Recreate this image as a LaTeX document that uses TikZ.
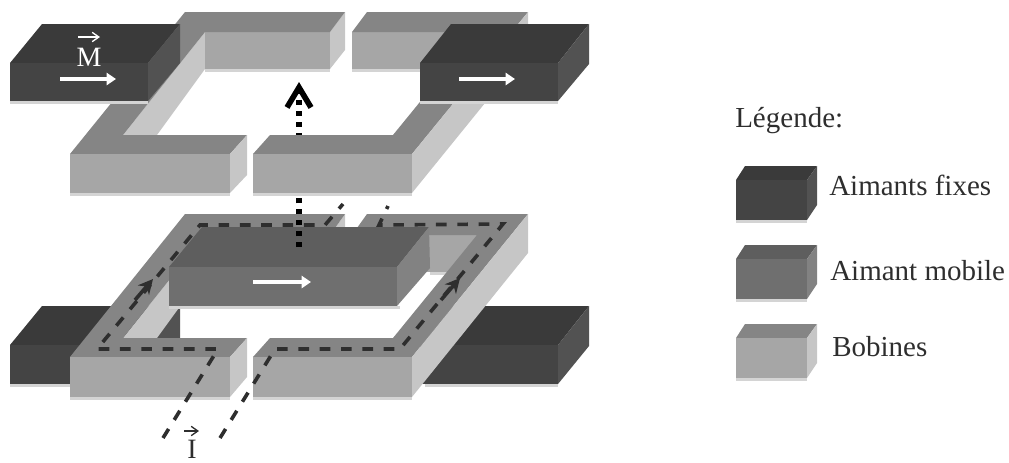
\documentclass[tikz,border=0pt]{standalone}
\usepackage{fontspec}
\setmainfont{Liberation Serif}
\usetikzlibrary{arrows.meta}
\definecolor{fixehaut}{HTML}{3A3A3A}
\definecolor{fixeface}{HTML}{444444}
\definecolor{fixecote}{HTML}{525252}
\definecolor{mobhaut}{HTML}{5E5E5E}
\definecolor{mobface}{HTML}{6F6F6F}
\definecolor{mobcote}{HTML}{828282}
\definecolor{bobhaut}{HTML}{858585}
\definecolor{bobface}{HTML}{A6A6A6}
\definecolor{bobcote}{HTML}{C6C6C6}
\definecolor{encre}{HTML}{2E2E2E}
\definecolor{halo}{HTML}{D4D4D4}

\begin{document}
\begin{tikzpicture}[
  x=0.75pt,y=-0.75pt,
  courant/.style={encre,line width=2.7pt,dash pattern=on 8pt off 8pt},
  pointe/.style={encre,line width=2.7pt,-{Stealth[length=11pt,width=11pt]}},
  champ/.style={black,line width=4.2pt,dash pattern=on 3.8pt off 4.4pt,-{Straight Barb[length=15pt,width=18pt]}},
  blanche/.style={white,line width=2.8pt,-{Triangle[length=7pt,width=9pt]}},
  fine/.style={line width=1pt,-{Straight Barb[length=5pt,width=7pt]}},
  titre/.style={inner sep=0pt,anchor=base west,text=encre,font=\fontsize{21.75}{24}\selectfont},
  lettre/.style={inner sep=0pt,anchor=base,font=\fontsize{21}{24}\selectfont},
]
\useasboundingbox (0,0) rectangle (1009,462);
% aimants fixes du bas
\fill[halo] (10,384) rectangle (80,387);
\fill[halo] (425,384) -- (558,384) -- (558,387) -- (425,387) -- cycle;
\fill[fixehaut] (10,345) -- (148,345) -- (180,306) -- (42,306) -- cycle;
\fill[fixeface] (10,345) rectangle (148,384);
\fill[fixecote] (148,345) -- (180,306) -- (180,345) -- (148,384) -- cycle;
\fill[fixehaut] (420,345) -- (558,345) -- (589,306) -- (451,306) -- cycle;
\fill[fixeface] (420,345) rectangle (558,384);
\fill[fixecote] (558,345) -- (589,306) -- (589,346) -- (558,384) -- cycle;
% bobine du bas
\fill[bobcote] (205,235) -- (205,272) -- (157,338) -- (123,338) -- cycle;
\fill[bobface] (205,235) rectangle (330,272);
\fill[bobcote] (330,235) -- (345,214) -- (345,253) -- (330,272) -- cycle;
\fill[bobface] (352,235) rectangle (477,272);
\fill[halo] (430,272) rectangle (467,275);
\fill[halo] (70,397) rectangle (230,400);
\fill[halo] (253,397) rectangle (412,400);
\fill[bobhaut] (185,214) -- (345,214) -- (330,235) -- (205,235) -- (123,338) -- (247,338) -- (230,357) -- (70,357) -- cycle;
\fill[bobface] (70,357) rectangle (230,397);
\fill[bobcote] (230,357) -- (247,338) -- (247,377) -- (230,397) -- cycle;
\fill[bobhaut] (367,214) -- (528,214) -- (412,357) -- (253,357) -- (270,338) -- (393,338) -- (477,235) -- (352,235) -- cycle;
\fill[bobface] (253,357) rectangle (412,397);
\fill[bobcote] (412,357) -- (528,214) -- (528,253) -- (412,397) -- cycle;
% aimant mobile
\fill[halo] (169,306) rectangle (400,309);
\fill[mobhaut] (169,267) -- (397,267) -- (429,227) -- (202,227) -- cycle;
\fill[mobface] (169,267) rectangle (397,306);
\fill[mobcote] (397,267) -- (429,227) -- (430,268) -- (397,306) -- cycle;
\coordinate (mobA) at (253,282);
\coordinate (mobB) at (311,282);
\draw[blanche] (mobA) -- (mobB);
% courant dans la bobine
\coordinate (entA) at (163,438);
\coordinate (coinA) at (218,349);
\coordinate (coinB) at (97,349);
\coordinate (coinC) at (200,225);
\coordinate (coinD) at (325,225);
\coordinate (sorA) at (343,204);
\coordinate (entB) at (220,438);
\coordinate (coinE) at (275,349);
\coordinate (coinF) at (400,349);
\coordinate (coinG) at (503,224);
\coordinate (coinH) at (379,225);
\coordinate (sorB) at (388,206);
\draw[courant] (entA) -- (coinA) -- (coinB) -- (coinC) -- (coinD) -- (sorA);
\draw[courant] (entB) -- (coinE) -- (coinF) -- (coinG) -- (coinH) -- (sorB);
\coordinate (flA) at (135,300);
\coordinate (flB) at (153,279);
\coordinate (flC) at (441,300);
\coordinate (flD) at (460,278);
\draw[pointe] (flA) -- (flB);
\draw[pointe] (flC) -- (flD);
\node[lettre,text=encre] (lI) at (192,458) {I};
\coordinate (fleIa) at (184,431);
\coordinate (fleIb) at (199,431);
\draw[fine,encre] (fleIa) -- (fleIb);
% champ vertical
\coordinate (chA) at (299,247);
\coordinate (chB) at (299,82);
\draw[champ] (chA) -- (chB);
% bobine du haut
\fill[bobcote] (205,32) -- (205,69) -- (157,135) -- (123,135) -- cycle;
\fill[bobface] (205,32) rectangle (330,69);
\fill[bobface] (352,32) rectangle (477,69);
\fill[bobcote] (330,32) -- (345,12) -- (345,50) -- (330,69) -- cycle;
\fill[halo] (70,193) rectangle (230,196);
\fill[halo] (253,193) rectangle (412,196);
\fill[halo] (205,69) rectangle (330,72);
\fill[halo] (352,69) rectangle (420,72);
\fill[bobhaut] (185,12) -- (345,12) -- (330,32) -- (205,32) -- (123,135) -- (247,135) -- (230,154) -- (70,154) -- cycle;
\fill[bobface] (70,154) rectangle (230,193);
\fill[bobcote] (230,154) -- (247,135) -- (247,175) -- (230,193) -- cycle;
\fill[bobhaut] (367,12) -- (528,12) -- (412,154) -- (253,154) -- (270,135) -- (393,135) -- (477,32) -- (352,32) -- cycle;
\fill[bobface] (253,154) rectangle (412,193);
\fill[bobcote] (412,154) -- (528,12) -- (528,50) -- (412,193) -- cycle;
% aimants fixes du haut
\fill[halo] (10,101) rectangle (148,104);
\fill[halo] (420,101) rectangle (558,104);
\fill[fixehaut] (10,63) -- (148,63) -- (180,24) -- (42,24) -- cycle;
\fill[fixeface] (10,63) rectangle (148,101);
\fill[fixecote] (148,63) -- (180,24) -- (180,63) -- (148,101) -- cycle;
\fill[fixehaut] (420,63) -- (558,63) -- (589,24) -- (451,24) -- cycle;
\fill[fixeface] (420,63) rectangle (558,101);
\fill[fixecote] (558,63) -- (589,24) -- (589,64) -- (558,101) -- cycle;
\coordinate (fixA) at (60,79);
\coordinate (fixB) at (116,79);
\coordinate (fixC) at (459,79);
\coordinate (fixD) at (515,79);
\draw[blanche] (fixA) -- (fixB);
\draw[blanche] (fixC) -- (fixD);
\node[lettre,text=white] (lM) at (89,66) {M};
\coordinate (fleMa) at (78,37);
\coordinate (fleMb) at (100,37);
\draw[fine,white] (fleMa) -- (fleMb);
% legende
\node[titre] (leg) at (735,127) {Légende:};
\foreach \yh/\hh/\ff/\cc/\nom/\xt/\yt in {166/fixehaut/fixeface/fixecote/Aimants fixes/829/195,
    245/mobhaut/mobface/mobcote/Aimant mobile/830/280,
    324/bobhaut/bobface/bobcote/Bobines/832/356}{
  \fill[halo] (736,\yh+54) rectangle (807,\yh+57);
  \fill[\hh] (736,\yh+14) -- (807,\yh+14) -- (817,\yh) -- (745,\yh) -- cycle;
  \fill[\ff] (736,\yh+14) rectangle (807,\yh+54);
  \fill[\cc] (807,\yh+14) -- (817,\yh) -- (817,\yh+39) -- (807,\yh+54) -- cycle;
  \node[titre] at (\xt,\yt) {\nom};
}
\end{tikzpicture}
\end{document}
